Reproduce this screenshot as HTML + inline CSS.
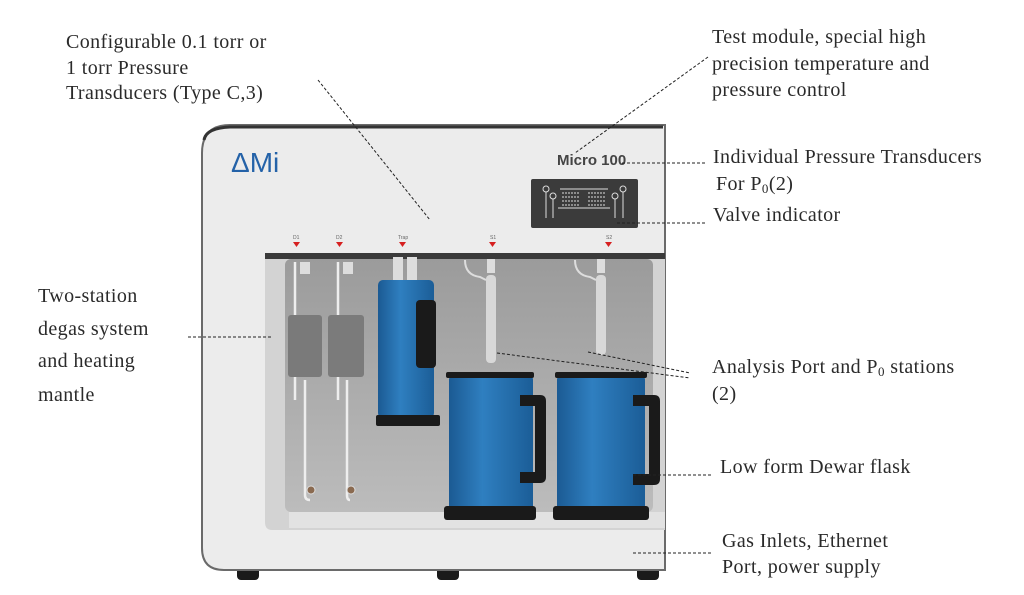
<!DOCTYPE html>
<html><head><meta charset="utf-8"><style>
html,body{margin:0;padding:0;background:#fff;}
svg{display:block}
text.l{font-family:"Liberation Serif","DejaVu Serif",serif;font-size:20px;letter-spacing:0.4px;fill:#2a2a2a}
text.s{font-family:"Liberation Sans",sans-serif;font-size:5px;fill:#666}
</style></head><body>
<svg width="1024" height="595" viewBox="0 0 1024 595" xmlns="http://www.w3.org/2000/svg">
<defs>
<linearGradient id="blue" x1="0" x2="1" y1="0" y2="0">
<stop offset="0" stop-color="#1b5a93"/><stop offset="0.4" stop-color="#2f7fc0"/><stop offset="1" stop-color="#1b5d97"/></linearGradient>
<linearGradient id="back" x1="0" x2="0" y1="0" y2="1">
<stop offset="0" stop-color="#9b9b9b"/><stop offset="1" stop-color="#bcbcbc"/></linearGradient>
</defs>
<rect x="237" y="566" width="22" height="14" rx="4" fill="#1a1a1a"/>
<rect x="437" y="566" width="22" height="14" rx="4" fill="#1a1a1a"/>
<rect x="637" y="566" width="22" height="14" rx="4" fill="#1a1a1a"/>
<path d="M665 125 L230 125 Q202 125 202 153 L202 548 Q202 570 224 570 L665 570 Z" fill="#ececec" stroke="#6a6a6a" stroke-width="2"/>
<path d="M204 140 Q206 128 230 127 L663 127" stroke="#333" stroke-width="3" fill="none"/>
<path d="M265 253 L665 253 L665 530 L272 530 Q265 530 265 522 Z" fill="#d3d3d3"/>
<rect x="265" y="253" width="400" height="6" fill="#3a3a3a"/>
<rect x="285" y="259" width="368" height="253" rx="6" fill="url(#back)"/>
<rect x="289" y="512" width="376" height="16" fill="#e2e2e2"/>
<text x="231" y="172" style="font-family:'Liberation Sans',sans-serif;font-size:28px;fill:#2462a8">ΔMi</text>
<text x="557" y="165" style="font-family:'Liberation Sans',sans-serif;font-size:15px;font-weight:bold;fill:#444">Micro 100</text>
<rect x="531" y="179" width="107" height="49" rx="2" fill="#3b3b3b"/>
<g stroke="#ddd" stroke-width="1" fill="none">
<circle cx="546" cy="189" r="3"/><circle cx="623" cy="189" r="3"/><circle cx="553" cy="196" r="3"/><circle cx="615" cy="196" r="3"/>
<path d="M546 192 V218 M623 192 V218 M553 199 V218 M615 199 V218 M558 208 H610 M560 189 H608"/>
<path d="M562 193 H580 M562 197 H580 M562 201 H580 M562 205 H580 M588 193 H606 M588 197 H606 M588 201 H606 M588 205 H606" stroke-dasharray="2 1"/>
</g>
<g fill="#d62020">
<path d="M293 242h7l-3.5 5z"/><path d="M336 242h7l-3.5 5z"/><path d="M399 242h7l-3.5 5z"/><path d="M489 242h7l-3.5 5z"/><path d="M605 242h7l-3.5 5z"/>
</g>
<text class="s" x="293" y="239">D1</text><text class="s" x="336" y="239">D2</text><text class="s" x="398" y="239">Trap</text><text class="s" x="490" y="239">S1</text><text class="s" x="606" y="239">S2</text>
<g stroke="#eee" stroke-width="2.5" fill="none">
<path d="M295 262 V400"/><path d="M338 262 V400"/>
<path d="M305 380 V495 Q305 500 310 500"/><path d="M347 380 V495 Q347 500 350 500"/>
</g>
<rect x="300" y="262" width="10" height="12" fill="#ddd"/><rect x="343" y="262" width="10" height="12" fill="#ddd"/>
<rect x="288" y="315" width="34" height="62" rx="3" fill="#7a7a7a"/>
<rect x="328" y="315" width="36" height="62" rx="3" fill="#7b7b7b"/>
<circle cx="311" cy="490" r="4" fill="#8a6a50" stroke="#ddd"/><circle cx="351" cy="490" r="4" fill="#8a6a50" stroke="#ddd"/>
<rect x="393" y="257" width="10" height="25" fill="#ddd"/><rect x="407" y="257" width="10" height="25" fill="#ddd"/>
<rect x="378" y="280" width="56" height="138" rx="5" fill="url(#blue)"/>
<rect x="416" y="300" width="20" height="68" rx="4" fill="#1a1a1a"/>
<rect x="376" y="415" width="64" height="11" rx="2" fill="#1a1a1a"/>
<rect x="487" y="259" width="8" height="14" fill="#ddd"/><rect x="597" y="259" width="8" height="14" fill="#ddd"/>
<rect x="486" y="275" width="10" height="88" rx="4" fill="#d8d8d8"/>
<rect x="596" y="275" width="10" height="80" rx="4" fill="#d8d8d8"/>
<path d="M465 260 Q465 275 480 277 L486 280" stroke="#ddd" stroke-width="2" fill="none"/>
<path d="M575 260 Q575 275 590 277 L596 280" stroke="#ddd" stroke-width="2" fill="none"/>
<rect x="449" y="374" width="84" height="138" rx="6" fill="url(#blue)"/>
<rect x="446" y="372" width="88" height="6" rx="2" fill="#1a1a1a"/>
<path d="M520 395 H540 Q546 395 546 401 V477 Q546 483 540 483 H520 V472 H535 V406 H520 Z" fill="#1a1a1a"/>
<rect x="444" y="506" width="92" height="14" rx="3" fill="#1a1a1a"/>
<rect x="557" y="374" width="88" height="138" rx="6" fill="url(#blue)"/>
<rect x="555" y="372" width="92" height="6" rx="2" fill="#1a1a1a"/>
<path d="M633 395 H654 Q660 395 660 401 V479 Q660 485 654 485 H633 V474 H649 V406 H633 Z" fill="#1a1a1a"/>
<rect x="553" y="506" width="96" height="14" rx="3" fill="#1a1a1a"/>
<g stroke="#222" stroke-width="1" fill="none" stroke-dasharray="3 2">
<path d="M318 80 L430 220"/>
<path d="M708 57 L575 153"/>
<path d="M622 163 H706"/>
<path d="M617 223 H706"/>
<path d="M188 337 H272"/>
<path d="M497 353 L690 378"/>
<path d="M588 352 L690 373"/>
<path d="M633 475 H712"/>
<path d="M633 553 H712"/>
</g>
<text class="l" x="66" y="48">Configurable 0.1 torr or</text>
<text class="l" x="66" y="74">1 torr Pressure</text>
<text class="l" x="66" y="99">Transducers (Type C,3)</text>
<text class="l" x="712" y="43">Test module, special high</text>
<text class="l" x="712" y="70">precision temperature and</text>
<text class="l" x="712" y="96">pressure control</text>
<text class="l" x="713" y="163">Individual Pressure Transducers</text>
<text class="l" x="716" y="190">For P<tspan style="font-size:13px" dy="3">0</tspan><tspan dy="-3">(2)</tspan></text>
<text class="l" x="713" y="221">Valve indicator</text>
<text class="l" x="38" y="302">Two-station</text>
<text class="l" x="38" y="335">degas system</text>
<text class="l" x="38" y="367">and heating</text>
<text class="l" x="38" y="401">mantle</text>
<text class="l" x="712" y="373">Analysis Port and P<tspan style="font-size:13px" dy="3">0</tspan><tspan dy="-3"> stations</tspan></text>
<text class="l" x="712" y="400">(2)</text>
<text class="l" x="720" y="473">Low form Dewar flask</text>
<text class="l" x="722" y="547">Gas Inlets, Ethernet</text>
<text class="l" x="722" y="573">Port, power supply</text>
</svg>
</body></html>
